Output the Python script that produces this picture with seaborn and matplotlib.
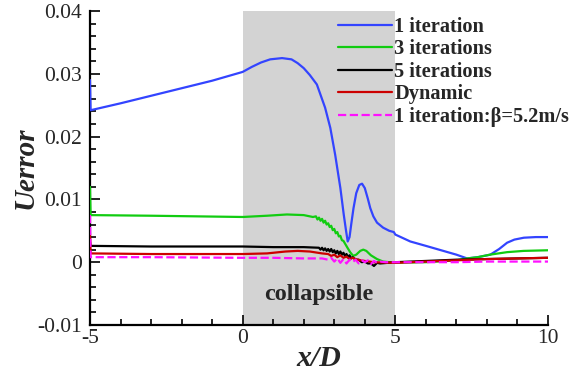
import numpy as np
import pandas as pd
import matplotlib
matplotlib.use("Agg")
import matplotlib.pyplot as plt
from matplotlib.ticker import MultipleLocator, FuncFormatter
import seaborn as sns

# ---- data ----
x_blue = [-5.0, -4.98, -4, -3, -2, -1, 0, 0.3, 0.6, 0.9, 1.29, 1.6, 1.8, 2.0, 2.2, 2.43, 2.7, 2.87,
          3.03, 3.2, 3.31, 3.38, 3.44, 3.5, 3.56, 3.63, 3.72, 3.82, 3.91, 4.0, 4.1, 4.18, 4.28,
          4.4, 4.6, 4.8, 4.95, 5.0, 5.49, 6.0, 6.5, 7.0, 7.35, 7.7, 8.11, 8.4, 8.66, 8.9, 9.21,
          9.6, 10.0]
y_blue = [0.029, 0.0242, 0.0253, 0.0265, 0.0277, 0.0289, 0.0303, 0.0311, 0.0318, 0.0323, 0.0325,
          0.0323, 0.0317, 0.0309, 0.0298, 0.0283, 0.0246, 0.0214, 0.0171, 0.0118, 0.0076, 0.0052,
          0.0033, 0.0040, 0.0062, 0.0086, 0.0110, 0.0123, 0.0125, 0.0118, 0.0101, 0.0086, 0.0073,
          0.0063, 0.0055, 0.0050, 0.0048, 0.0044, 0.0033, 0.0026, 0.0019, 0.0012, 0.0006, 0.0008,
          0.0012, 0.0021, 0.0031, 0.0036, 0.0039, 0.0040, 0.0040]

x_green = [-5.0, -4.98, -3, 0, 0.8, 1.45, 2.0, 2.3, 2.4, 2.45, 2.5, 2.55, 2.6, 2.65, 2.7, 2.75,
           2.8, 2.85, 2.9, 2.95, 3.0, 3.05, 3.1, 3.15, 3.2, 3.25, 3.3, 3.42, 3.52, 3.62, 3.72,
           3.85, 3.95, 4.05, 4.2, 4.4, 4.6, 5.0, 6.0, 7.0, 7.35, 7.7, 8.1, 8.66, 9.2, 10.0]
y_green = [0.012, 0.0075, 0.0074, 0.0072, 0.0074, 0.0076, 0.0075, 0.0072, 0.0073, 0.0068, 0.0071,
           0.0066, 0.0069, 0.0063, 0.0066, 0.0060, 0.0062, 0.0056, 0.0058, 0.0051, 0.0053, 0.0046,
           0.0048, 0.0041, 0.0042, 0.0035, 0.0034, 0.0024, 0.0016, 0.0010, 0.0012, 0.0018, 0.0020,
           0.0018, 0.0011, 0.0005, 0.0001, -0.0001, 0.0000, 0.0003, 0.0006, 0.0008, 0.0012,
           0.0016, 0.0018, 0.0019]

x_black = [-5.0, -4.98, -3, 0, 1.0, 2.0, 2.5, 2.55, 2.6, 2.65, 2.7, 2.75, 2.8, 2.85, 2.9, 2.95,
           3.0, 3.05, 3.1, 3.15, 3.2, 3.25, 3.3, 3.35, 3.4, 3.45, 3.5, 3.55, 3.6, 3.7, 3.8, 3.9,
           4.0, 4.1, 4.2, 4.3, 4.4, 4.5, 5.0, 6.0, 7.0, 8.0, 9.0, 10.0]
y_black = [0.0032, 0.0026, 0.0025, 0.0025, 0.0024, 0.0024, 0.0023, 0.0020, 0.0023, 0.0019, 0.0022,
           0.0018, 0.0021, 0.0017, 0.0021, 0.0016, 0.0019, 0.0014, 0.0018, 0.0013, 0.0017, 0.0012,
           0.0015, 0.0010, 0.0013, 0.0008, 0.0011, 0.0006, 0.0008, 0.0004, 0.0004, 0.0000, 0.0001,
           -0.0002, -0.0002, -0.0006, -0.0001, -0.0002, 0.0000, 0.0002, 0.0004, 0.0005, 0.0006,
           0.0007]

x_red = [-5.0, -4.98, -3, 0, 0.8, 1.4, 1.8, 2.2, 2.6, 2.8, 2.9, 3.0, 3.1, 3.2, 3.3, 3.4, 3.5,
         3.6, 3.75, 4.0, 4.3, 5.0, 6.0, 7.0, 8.0, 9.0, 10.0]
y_red = [0.0045, 0.0014, 0.0013, 0.0013, 0.0014, 0.0017, 0.0018, 0.0017, 0.0014, 0.0013, 0.0010,
         0.0012, 0.0008, 0.0011, 0.0007, 0.0009, 0.0005, 0.0007, 0.0004, 0.0002, 0.0000, -0.0001,
         0.0001, 0.0003, 0.0005, 0.0006, 0.0007]

x_mag = [-5.0, -4.98, -3, 0, 1.0, 2.0, 2.6, 2.8, 2.9, 3.0, 3.1, 3.2, 3.3, 3.4, 3.5, 3.6, 3.7, 3.8,
         3.9, 4.0, 4.1, 4.2, 4.3, 4.4, 4.5, 4.7, 5.0, 6.0, 7.0, 8.0, 9.0, 10.0]
y_mag = [0.0075, 0.0008, 0.0008, 0.0007, 0.0007, 0.0006, 0.0006, 0.0004, 0.0007, 0.0001, 0.0006,
         -0.0001, 0.0005, -0.0002, 0.0004, 0.0000, 0.0004, -0.0002, 0.0003, 0.0000, 0.0003,
         -0.0003, 0.0002, -0.0001, 0.0001, 0.0000, 0.0000, 0.0000, 0.0000, 0.0001, 0.0001, 0.0001]

labels = ["1 iteration", "3 iterations", "5 iterations", "Dynamic", "1 iteration:β=5.2m/s"]
colors = ["#3344ff", "#11cc11", "#000000", "#cc0000", "#ff11ff"]

x_ticks = [-5, 0, 5, 10]
y_ticks = [-0.01, 0, 0.01, 0.02, 0.03, 0.04]

# ---- figure ----
sns.set_style("ticks")
plt.rcParams["font.family"] = ["Liberation Serif", "DejaVu Serif"]
plt.rcParams["axes.unicode_minus"] = False

fig = plt.figure(figsize=(5.69, 3.78), dpi=100)
ax = fig.add_axes([90 / 569, 1 - 325 / 378, (548 - 90) / 569, (325 - 11) / 378])

ax.axvspan(0, 5, color="#d3d3d3", zorder=0, lw=0)

series = [(x_blue, y_blue), (x_green, y_green), (x_black, y_black), (x_red, y_red), (x_mag, y_mag)]
for (xs, ys), lab, col in zip(series, labels, colors):
    df = pd.DataFrame({"x": xs, "y": ys})
    kw = {}
    if lab.startswith("1 iteration:"):
        kw["dashes"] = (5, 2.2)
        kw["linestyle"] = "--"
    sns.lineplot(data=df, x="x", y="y", ax=ax, color=col, lw=1.6,
                 sort=False, estimator=None, label=lab, zorder=3, **kw)

ax.set_xlim(-5, 10)
ax.set_ylim(-0.01, 0.04)
ax.set_xticks(x_ticks)
ax.set_yticks(y_ticks)
ax.xaxis.set_minor_locator(MultipleLocator(1))
ax.yaxis.set_minor_locator(MultipleLocator(0.002))
ax.yaxis.set_major_formatter(FuncFormatter(lambda v, p: "0" if abs(v) < 1e-12 else f"{v:g}"))
ax.tick_params(which="both", direction="in", labelsize=15.5, width=1.2, color="black",
               top=False, right=False)
ax.tick_params(which="major", length=7)
ax.tick_params(which="minor", length=4)
ax.tick_params(axis="x", which="both", pad=3)
ax.tick_params(axis="y", which="both", pad=6)
for s in ["left", "bottom"]:
    ax.spines[s].set_linewidth(1.6)
    ax.spines[s].set_color("black")
sns.despine(ax=ax)

ax.set_xlabel("x/D", fontsize=21.5, fontweight="bold", style="italic", va="center")
ax.xaxis.set_label_coords(0.5, (325 - 358) / 314)
ax.set_ylabel("Uerror", fontsize=21, fontweight="bold", style="italic", va="center")
ax.yaxis.set_label_coords((25 - 90) / 458, 0.5)

ax.text(2.5, -0.0051, "collapsible", fontsize=17.5, fontweight="bold", ha="center", va="center")

leg = ax.legend(loc="upper left", bbox_to_anchor=(338 / 569, 1 - 17 / 378),
                bbox_transform=fig.transFigure, frameon=False,
                prop={"weight": "bold", "size": 14.7}, handlelength=2.65, handletextpad=0.1,
                labelspacing=0.12, borderpad=0, borderaxespad=0)

fig.savefig("out.png", dpi=100)
